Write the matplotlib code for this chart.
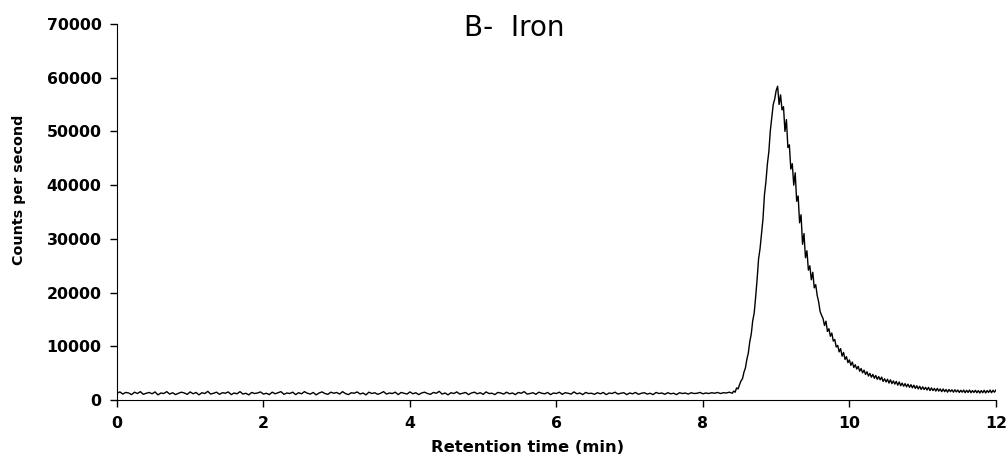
import numpy as np
import matplotlib
matplotlib.use("Agg")
import matplotlib.pyplot as plt

# baseline counts, 0.00 - 8.36 min every 0.04 min
base_cps = [
    1300, 1550, 1150, 1450, 1350, 1050, 1500, 1250, 1600, 1100, 1300, 1450, 1200, 1550, 1000,
    1350, 1250, 1600, 1150, 1400, 1050, 1300, 1500, 1350, 1100, 1550, 1200, 1450, 1000, 1400,
    1250, 1650, 1150, 1300, 1500, 1100, 1400, 1300, 1550, 1050, 1350, 1200, 1600, 1150, 1300,
    1000, 1450, 1250, 1350, 1550, 1150, 1300, 1050, 1500, 1200, 1400, 1600, 1100, 1350, 1250,
    1500, 1050, 1400, 1200, 1600, 1300, 1150, 1450, 1000, 1350, 1550, 1250, 1100, 1500, 1300,
    1450, 1150, 1600, 1250, 1050, 1400, 1300, 1550, 1150, 1350, 1000, 1500, 1250, 1400, 1100,
    1300, 1600, 1150, 1350, 1250, 1500, 1050, 1450, 1300, 1150, 1550, 1200, 1400, 1050, 1350,
    1500, 1250, 1100, 1450, 1300, 1650, 1150, 1350, 1000, 1400, 1250, 1550, 1150, 1300, 1450,
    1050, 1350, 1500, 1200, 1400, 1100, 1550, 1250, 1300, 1050, 1450, 1350, 1150, 1500, 1200,
    1350, 1050, 1450, 1300, 1600, 1150, 1250, 1400, 1100, 1500, 1300, 1200, 1450, 1050, 1350,
    1250, 1500, 1100, 1400, 1300, 1150, 1550, 1200, 1350, 1050, 1450, 1250, 1300, 1100, 1400,
    1200, 1450, 1050, 1350, 1250, 1500, 1150, 1300, 1400, 1050, 1350, 1200, 1450, 1100, 1300,
    1400, 1150, 1300, 1050, 1450, 1250, 1350, 1100, 1400, 1200, 1300, 1050, 1400, 1250, 1350,
    1150, 1400, 1250, 1300, 1450, 1200, 1350, 1250, 1400, 1300, 1450, 1250, 1400, 1350, 1500,
]

# iron peak and tail, 8.40 - 12.00 min every 0.02 min
peak_cps = [
    1300, 1700, 1500, 2300, 2100, 2900, 3600, 4000, 5200, 6000,
    7600, 8800, 10900, 12300, 14800, 16200, 19200, 22500, 26300, 28200,
    31000, 33700, 38200, 40600, 43900, 46200, 50100, 52500, 55000, 56000,
    57600, 58400, 55000, 56800, 54000, 54600, 50000, 52200, 47000, 47500,
    43000, 44000, 40000, 42300, 37000, 38000, 33000, 34500, 29000, 31000,
    26500, 27800, 24200, 25000, 22400, 23800, 20900, 21500, 19500, 18300,
    16500, 15800, 15200, 13900, 14700, 12800, 13300, 11900, 12500, 11000,
    11300, 9900, 10200, 9000, 9600, 8200, 8900, 7600, 8100, 7000,
    7500, 6500, 7100, 6100, 6600, 5800, 6300, 5400, 5900, 5100,
    5600, 4800, 5300, 4500, 5000, 4300, 4800, 4100, 4600, 3900,
    4400, 3800, 4300, 3500, 4000, 3400, 3900, 3200, 3800, 3100,
    3600, 3000, 3500, 2800, 3400, 2700, 3200, 2600, 3100, 2500,
    3000, 2400, 2900, 2300, 2800, 2200, 2700, 2100, 2600, 2000,
    2500, 2000, 2400, 1900, 2400, 1800, 2300, 1800, 2200, 1700,
    2200, 1700, 2100, 1600, 2100, 1600, 2000, 1500, 2000, 1600,
    1950, 1500, 1950, 1550, 1900, 1450, 1850, 1500, 1900, 1400,
    1850, 1450, 1900, 1400, 1800, 1450, 1850, 1400, 1800, 1350,
    1800, 1400, 1850, 1350, 1800, 1450, 1900, 1400, 1850, 1500,
    1900,
]

base_t = 0.04 * np.arange(len(base_cps))
peak_t = 8.40 + 0.02 * np.arange(len(peak_cps))
t = np.concatenate([base_t, peak_t])
cps = np.concatenate([base_cps, peak_cps])

plt.rcParams['font.family'] = ['DejaVu Sans']

fig = plt.figure(figsize=(10.08, 4.59), dpi=100)
ax = fig.add_axes([0.116, 0.128, 0.872, 0.82])
ax.plot(t, cps, color='black', lw=1.0)

ax.set_xlim(0, 12)
ax.set_ylim(0, 70000)
ax.set_xticks(np.arange(0, 13, 2))
ax.set_yticks(np.arange(0, 70001, 10000))
for s in ['top', 'right']:
    ax.spines[s].set_visible(False)
ax.tick_params(direction='out', length=5, width=1, labelsize=11.3, pad=6)
for lab in ax.get_xticklabels() + ax.get_yticklabels():
    lab.set_fontweight('bold')

ax.set_xlabel('Retention time (min)', fontsize=11.8, fontweight='bold')
ax.set_ylabel('Counts per second', fontsize=10.3, fontweight='bold')
ax.xaxis.set_label_coords(0.467, -0.105)
ax.yaxis.set_label_coords(-0.104, 0.56)
fig.text(0.51, 0.94, 'B-  Iron', fontsize=20, ha='center', va='center')

fig.savefig('out.png', dpi=100)
